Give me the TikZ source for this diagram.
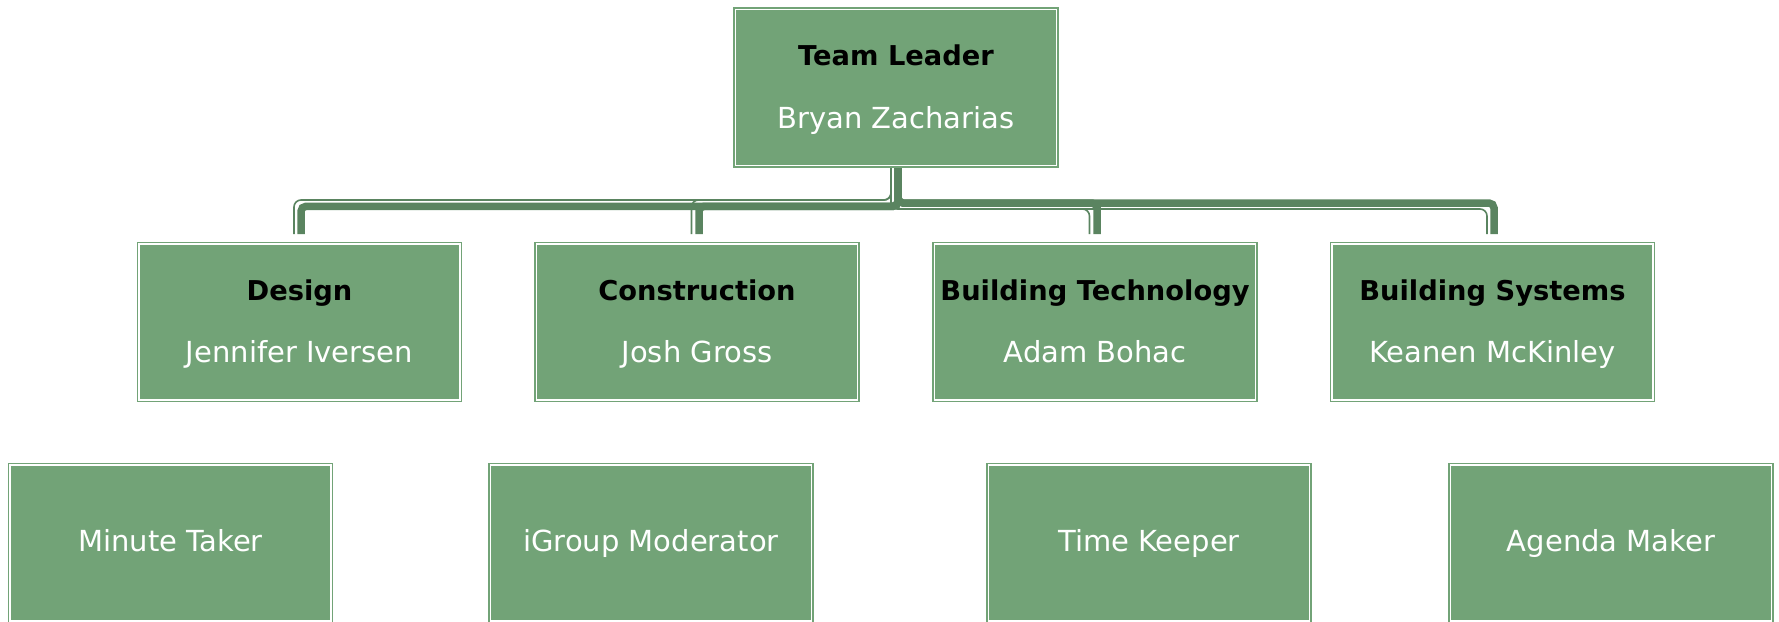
\documentclass[tikz,border=0pt]{standalone}
\usepackage{fontspec}
\setmainfont{DejaVu Sans}
\usetikzlibrary{positioning}

\definecolor{boxgreen}{RGB}{114,163,119}
\definecolor{linkgreen}{RGB}{90,132,96}

\begin{document}
\begin{tikzpicture}[x=1pt,y=1pt,
    unit/.style={rectangle, fill=boxgreen, draw=boxgreen, double=white,
      double distance=1.8pt, line width=1.4pt, minimum width=321pt,
      minimum height=156pt, inner sep=0pt, outer sep=0pt},
    role/.style={anchor=base, inner sep=0pt, text=black,
      font=\fontsize{27.3}{30}\selectfont\bfseries},
    who/.style={anchor=base, inner sep=0pt, text=white,
      font=\fontsize{29}{32}\selectfont},
    link/.style={draw=linkgreen, line width=7.5pt, rounded corners=5pt},
    rim/.style={draw=linkgreen, line width=1.6pt, rounded corners=7pt}]
      \path[use as bounding box] (0,0) rectangle (1779,-621);
      \clip (0,0) rectangle (1779,-621);

      % leader
      \node[unit] (lead) at (896,-87.5) {};
      \node[role] (lead-role) at ([yshift=22pt]lead.center) {Team Leader};
      \node[who] (lead-name) at ([yshift=-40.5pt]lead.center) {Bryan Zacharias};

      % departments
      \node[unit] (design) at (299.5,-322) {};
      \node[unit] (construction) at (697,-322) {};
      \node[unit] (tech) at (1095,-322) {};
      \node[unit] (systems) at (1492.5,-322) {};

      \node[role] (design-role) at ([yshift=22pt]design.center) {Design};
      \node[who] (design-name) at ([yshift=-40.5pt]design.center) {Jennifer Iversen};
      \node[role] (construction-role) at ([yshift=22pt]construction.center) {Construction};
      \node[who] (construction-name) at ([yshift=-40.5pt]construction.center) {Josh Gross};
      \node[role] (tech-role) at ([yshift=22pt]tech.center) {Building Technology};
      \node[who] (tech-name) at ([yshift=-40.5pt]tech.center) {Adam Bohac};
      \node[role] (systems-role) at ([yshift=22pt]systems.center) {Building Systems};
      \node[who] (systems-name) at ([yshift=-40.5pt]systems.center) {Keanen McKinley};

      % meeting jobs
      \node[unit] (minutes) at (170.5,-543) {};
      \node[unit] (moderator) at (651,-543) {};
      \node[unit] (timer) at (1149,-543) {};
      \node[unit] (agenda) at (1611,-543) {};

      \node[who] (minutes-job) at ([yshift=-8.7pt]minutes.center) {Minute Taker};
      \node[who] (moderator-job) at ([yshift=-8.7pt]moderator.center) {iGroup Moderator};
      \node[who] (timer-job) at ([yshift=-8.7pt]timer.center) {Time Keeper};
      \node[who] (agenda-job) at ([yshift=-8.7pt]agenda.center) {Agenda Maker};

      % elbows from the leader, thin rim on the outer side
      \draw[rim] ([xshift=-5pt,yshift=-2.5pt]lead.south) -- ++(0,-32) -| ([xshift=-5.5pt,yshift=10pt]design.north);
      \draw[rim] ([xshift=-5pt,yshift=-2.5pt]lead.south) -- ++(0,-32) -| ([xshift=-5.5pt,yshift=10pt]construction.north);
      \draw[rim] ([xshift=-5pt,yshift=-2.5pt]lead.south) -- ++(0,-41) -| ([xshift=-5.5pt,yshift=10pt]tech.north);
      \draw[rim] ([xshift=-5pt,yshift=-2.5pt]lead.south) -- ++(0,-41) -| ([xshift=-5.5pt,yshift=10pt]systems.north);

      \draw[link] ([xshift=2pt,yshift=-2.5pt]lead.south) -- ++(0,-38.3) -| ([xshift=1.5pt,yshift=10pt]design.north);
      \draw[link] ([xshift=2pt,yshift=-2.5pt]lead.south) -- ++(0,-38.3) -| ([xshift=2pt,yshift=10pt]construction.north);
      \draw[link] ([xshift=2pt,yshift=-2.5pt]lead.south) -- ++(0,-35) -| ([xshift=2pt,yshift=10pt]tech.north);
      \draw[link] ([xshift=2pt,yshift=-2.5pt]lead.south) -- ++(0,-35) -| ([xshift=1.5pt,yshift=10pt]systems.north);
    \end{tikzpicture}
\end{document}
